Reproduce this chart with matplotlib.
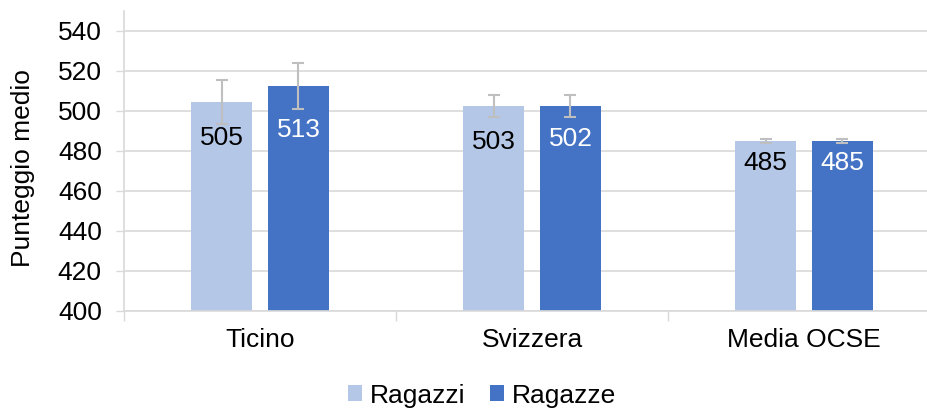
import matplotlib
matplotlib.use('Agg')
from matplotlib import pyplot as plt
import numpy as np

plt.rcParams['font.family'] = ['Liberation Sans', 'DejaVu Sans']

categories = ['Ticino', 'Svizzera', 'Media OCSE']
ragazzi = [504.5, 502.5, 485]
ragazze = [512.5, 502.5, 485]
ragazzi_err = [11, 5.5, 1]
ragazze_err = [11.5, 5.3, 1]
ragazzi_labels = ['505', '503', '485']
ragazze_labels = ['513', '502', '485']
# vertical drop of the value labels under the bar top, in pixels
ragazzi_drop = [36, 36, 22]
ragazze_drop = [44, 33, 22]

light = '#b4c7e7'
dark = '#4472c4'
grey = '#d9d9d9'
errc = '#bfbfbf'
fs = 19

fig = plt.figure(figsize=(9.27, 4.08), dpi=100)
ax = fig.add_axes([124 / 927, 97 / 408, (927 - 124) / 927, 300 / 408])

x = np.arange(len(categories))
w = 0.224
off = 0.1415
ax.bar(x - off, ragazzi, w, color=light, label='Ragazzi', zorder=2)
ax.bar(x + off, ragazze, w, color=dark, label='Ragazze', zorder=2)
ax.errorbar(x - off, ragazzi, yerr=ragazzi_err, fmt='none', ecolor=errc,
            elinewidth=1.5, capsize=4, capthick=1.5, zorder=3)
ax.errorbar(x + off, ragazze, yerr=ragazze_err, fmt='none', ecolor=errc,
            elinewidth=1.5, capsize=4, capthick=1.5, zorder=3)

for i in range(len(categories)):
    ax.annotate(ragazzi_labels[i], (x[i] - off, ragazzi[i]),
                xytext=(0, -ragazzi_drop[i]), textcoords='offset pixels',
                ha='center', va='center', fontsize=fs, color='black', zorder=4)
    ax.annotate(ragazze_labels[i], (x[i] + off, ragazze[i]),
                xytext=(0, -ragazze_drop[i]), textcoords='offset pixels',
                ha='center', va='center', fontsize=fs, color='white', zorder=4)

ax.set_ylim(400, 550)
ax.set_yticks(range(400, 541, 20))
ax.set_xlim(-0.5, 2.5 - 13 / 272)
ax.set_xticks(x)
ax.set_xticklabels(categories, fontsize=fs)
ax.set_xticks([-0.5, 0.5, 1.5], minor=True)
ax.tick_params(axis='x', which='major', length=0, pad=12)
ax.tick_params(axis='x', which='minor', length=7, color=grey, width=1)
ax.tick_params(axis='y', length=6, color=grey, width=1, labelsize=fs, pad=10)

ax.yaxis.grid(True, color=grey, linewidth=1.2, zorder=0)
ax.set_axisbelow(True)
for s in ['top', 'right']:
    ax.spines[s].set_visible(False)
for s in ['left', 'bottom']:
    ax.spines[s].set_color(grey)
    ax.spines[s].set_linewidth(1.2)

ax.set_ylabel('Punteggio medio', fontsize=fs)
ax.yaxis.set_label_coords(-89 / 803, 0.477)

fig.legend(loc='center', bbox_to_anchor=(0.52, 0.03), ncol=2, frameon=False,
           fontsize=fs, handlelength=0.55, handleheight=0.55, handletextpad=0.3,
           columnspacing=0.9)

fig.savefig('out.png', dpi=100)
